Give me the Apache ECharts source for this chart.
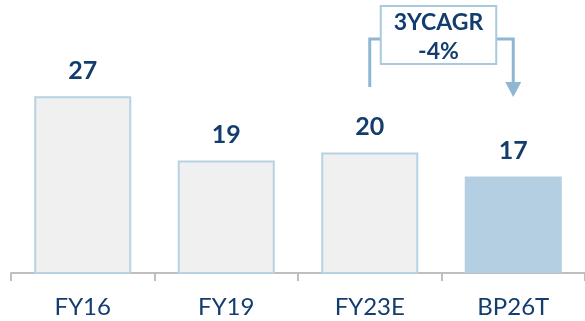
<!DOCTYPE html>
<html>
<head>
<meta charset="utf-8">
<script src="https://cdn.jsdelivr.net/npm/echarts@6/dist/echarts.min.js"></script>
<style>
  html, body { margin: 0; padding: 0; background: #fff; }
  #chart { width: 585px; height: 321px; }
</style>
</head>
<body>
<div id="chart"></div>
<script>
// data
const categories = ['FY16', 'FY19', 'FY23E', 'BP26T'];
const values = [27, 19, 20, 17];
const cagrText = ['3YCAGR', '-4%'];
const cagrFrom = 'FY23E';
const cagrTo = 'BP26T';

const navy = '#123d6e';
const edge = '#b7d2e3';
const fontFamily = 'Lato, "Open Sans", sans-serif';

const chart = echarts.init(document.getElementById('chart'), null, { renderer: 'canvas' });

chart.setOption({
  animation: false,
  grid: { left: 11, right: -3, top: 48, bottom: 48 },
  xAxis: {
    type: 'category',
    data: categories,
    axisLine: { lineStyle: { color: '#bfbfbf', width: 2 } },
    axisTick: { show: true, length: 8, lineStyle: { color: '#bfbfbf', width: 2 } },
    axisLabel: { color: navy, fontSize: 24, fontFamily: fontFamily, margin: 22 }
  },
  yAxis: {
    type: 'value',
    min: 5,
    max: 33,
    show: false,
    splitLine: { show: false }
  },
  series: [{
    type: 'bar',
    barWidth: 97,
    data: values.map((v, i) => ({
      value: v,
      itemStyle: i === values.length - 1
        ? { color: '#b3cfe1', borderColor: '#b3cfe1', borderWidth: 0 }
        : { color: '#f0f0f0', borderColor: edge, borderWidth: 2 }
    })),
    label: {
      show: true,
      position: 'top',
      distance: 13,
      color: navy,
      fontSize: 25,
      fontWeight: 'bold',
      fontFamily: fontFamily
    }
  }]
});

// CAGR callout, anchored on the two category centres
const xa = chart.convertToPixel({ xAxisIndex: 0 }, cagrFrom);
const xb = chart.convertToPixel({ xAxisIndex: 0 }, cagrTo);
const lineStyle = { stroke: '#8fb7d3', lineWidth: 3 };
const boxL = xa + 11, boxR = xb - 17;
chart.setOption({
  graphic: [
    { type: 'polyline', shape: { points: [[xa, 87], [xa, 39], [boxL, 39]] }, style: lineStyle },
    { type: 'polyline', shape: { points: [[boxR, 39], [xb, 39], [xb, 83]] }, style: lineStyle },
    { type: 'polygon', shape: { points: [[xb - 8, 82], [xb + 8, 82], [xb, 97]] }, style: { fill: '#8fb7d3' } },
    { type: 'rect', shape: { x: boxL, y: 6, width: boxR - boxL, height: 58 },
      style: { fill: '#fff', stroke: '#a9c9dd', lineWidth: 2 } },
    { type: 'text', x: (boxL + boxR) / 2, y: 23,
      style: { text: cagrText[0], fill: navy, font: 'bold 23px ' + fontFamily, textAlign: 'center', textVerticalAlign: 'middle' } },
    { type: 'text', x: (boxL + boxR) / 2, y: 52,
      style: { text: cagrText[1], fill: navy, font: 'bold 23px ' + fontFamily, textAlign: 'center', textVerticalAlign: 'middle' } }
  ]
});
</script>
</body>
</html>
